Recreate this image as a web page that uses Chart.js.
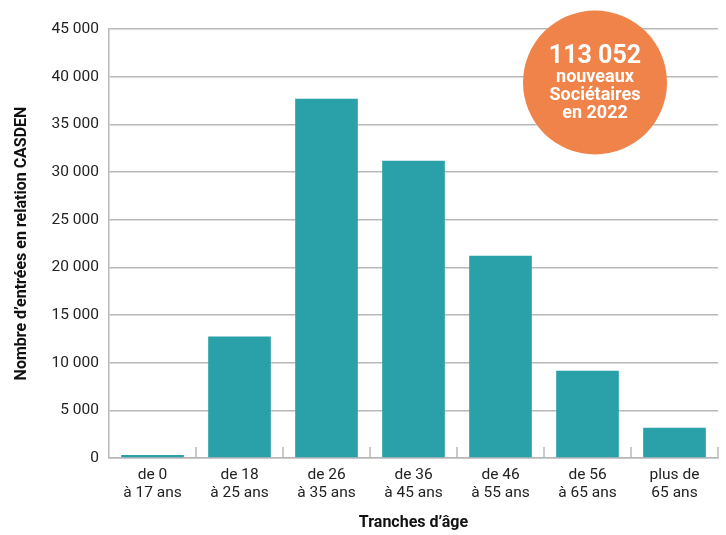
<!DOCTYPE html>
<html>
<head>
<meta charset="utf-8">
<script src="https://cdn.jsdelivr.net/npm/chart.js@4.4.0/dist/chart.umd.min.js"></script>
<style>
  html, body { margin: 0; padding: 0; background: #fff; }
  #wrap { width: 726px; height: 535px; }
</style>
</head>
<body>
<div id="wrap"><canvas id="ageChart"></canvas></div>
<script>
// Données
const ageGroups = [
  ["de 0", "à 17 ans"],
  ["de 18", "à 25 ans"],
  ["de 26", "à 35 ans"],
  ["de 36", "à 45 ans"],
  ["de 46", "à 55 ans"],
  ["de 56", "à 65 ans"],
  ["plus de", "65 ans"]
];
const entries = [320, 12750, 37680, 31180, 21220, 9160, 3180];
const yTicks = [0, 5000, 10000, 15000, 20000, 25000, 30000, 35000, 40000, 45000];
const badgeLines = ["113 052", "nouveaux", "Sociétaires", "en 2022"];

const TEAL = "#2aa0a8";
const ORANGE = "#f0834a";
const GRID = "#b8b8b8";

// petits traits entre les catégories, vers le haut depuis l'axe
const categoryTicks = {
  id: "categoryTicks",
  afterDatasetsDraw(chart) {
    const { ctx, chartArea, scales: { x } } = chart;
    const step = x.getPixelForValue(1) - x.getPixelForValue(0);
    ctx.save();
    ctx.strokeStyle = GRID;
    ctx.lineWidth = 1.5;
    for (let i = 0; i < ageGroups.length; i++) {
      const px = x.getPixelForValue(i) + step / 2;
      ctx.beginPath();
      ctx.moveTo(px, chartArea.bottom);
      ctx.lineTo(px, chartArea.bottom - 11);
      ctx.stroke();
    }
    ctx.restore();
  }
};

// pastille orange en haut à droite
const badge = {
  id: "badge",
  afterDraw(chart) {
    const { ctx, chartArea } = chart;
    const cx = chartArea.right - 123;
    const cy = 82.5;
    ctx.save();
    ctx.fillStyle = ORANGE;
    ctx.beginPath();
    ctx.arc(cx, cy, 72, 0, Math.PI * 2);
    ctx.fill();
    ctx.fillStyle = "#fff";
    ctx.textAlign = "center";
    ctx.textBaseline = "alphabetic";
    ctx.font = "bold 25px Roboto";
    ctx.fillText(badgeLines[0], cx, 63);
    ctx.font = "bold 18px Roboto";
    ctx.fillText(badgeLines[1], cx, 82);
    ctx.fillText(badgeLines[2], cx, 100);
    ctx.fillText(badgeLines[3], cx, 118);
    ctx.restore();
  }
};

const fmt = v => String(v).replace(/\B(?=(\d{3})+(?!\d))/g, " ");

new Chart(document.getElementById("ageChart"), {
  type: "bar",
  data: {
    labels: ageGroups,
    datasets: [{
      data: entries,
      backgroundColor: TEAL,
      borderWidth: 0,
      categoryPercentage: 1,
      barPercentage: 0.72
    }]
  },
  options: {
    responsive: true,
    maintainAspectRatio: false,
    animation: false,
    layout: { padding: { top: 29, right: 8, left: 0, bottom: 0 } },
    plugins: {
      legend: { display: false },
      tooltip: { enabled: false }
    },
    scales: {
      x: {
        grid: { display: false },
        border: { display: true, color: GRID, width: 1.5 },
        ticks: {
          color: "#222",
          font: { family: "Roboto", size: 15.5, lineHeight: 1.17 },
          padding: 0,
          maxRotation: 0
        },
        title: {
          display: true,
          text: "Tranches d’âge",
          color: "#111",
          font: { family: "Roboto", size: 16, weight: "bold" },
          padding: { top: 0, bottom: 2 }
        },
        afterFit(scale) { scale.height = 77; }
      },
      y: {
        min: 0,
        max: 45000,
        afterBuildTicks(scale) { scale.ticks = yTicks.map(v => ({ value: v })); },
        grid: { color: GRID, lineWidth: 1.5, drawTicks: false },
        border: { display: true, color: GRID, width: 1.5 },
        ticks: {
          color: "#222",
          font: { family: "Roboto", size: 15.5 },
          padding: 10,
          callback: v => fmt(v)
        },
        title: {
          display: true,
          text: "Nombre d’entrées en relation CASDEN",
          color: "#111",
          font: { family: "Roboto", size: 16, weight: "bold" },
          padding: { top: 12, bottom: 0 }
        },
        afterFit(scale) { scale.width = 109; }
      }
    }
  },
  plugins: [categoryTicks, badge]
});
</script>
</body>
</html>
